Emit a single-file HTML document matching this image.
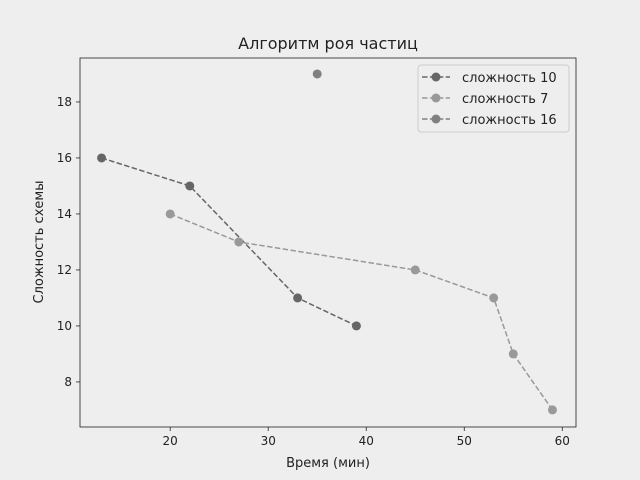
<!DOCTYPE html>
<html><head><meta charset="utf-8"><style>
html,body{margin:0;padding:0;background:#eeeeee;}
svg{display:block;font-family:"DejaVu Sans","Liberation Sans",sans-serif;}
</style></head><body>
<svg id="chart" width="640" height="480">
<rect width="640" height="480" fill="#eeeeee"/>
<text x="328" y="49" text-anchor="middle" font-size="16" fill="#222">Алгоритм роя частиц</text>
<g id="axes"></g>
<g id="series"></g>
<rect x="80" y="58" width="496" height="369" fill="none" stroke="#222" stroke-width="0.8"/>
<text x="328" y="467" text-anchor="middle" font-size="13" fill="#222">Время (мин)</text>
<text transform="translate(43,242) rotate(-90)" text-anchor="middle" font-size="13" fill="#222">Сложность схемы</text>
<g id="legend"></g>
</svg>
<script>
const xTicks=[20,30,40,50,60];
const yTicks=[8,10,12,14,16,18];
const seriesNames=["сложность 10","сложность 7","сложность 16"];
const s1x=[13,22,33,39], s1y=[16,15,11,10];
const s2x=[20,27,45,53,55,59], s2y=[14,13,12,11,9,7];
const s3x=[35], s3y=[19];
const colors=["#666666","#999999","#808080"];
const L=80,R=576,T=58,B=427;
const xmin=10.8,xmax=61.4,ymin=6.39,ymax=19.57;
const X=v=>L+(v-xmin)/(xmax-xmin)*(R-L);
const Y=v=>B-(v-ymin)/(ymax-ymin)*(B-T);
const NS="http://www.w3.org/2000/svg";
function mk(tag,attrs,parent){const e=document.createElementNS(NS,tag);for(const k in attrs)e.setAttribute(k,attrs[k]);parent.appendChild(e);return e;}
const ax=document.getElementById('axes');
xTicks.forEach(t=>{
 const l=mk('line',{x1:X(t),x2:X(t),y1:B,y2:B+4,stroke:'#222','stroke-width':0.8},ax);
 
 
 const tx=mk('text',{x:X(t),y:B+18,'text-anchor':'middle','font-size':12,fill:'#222'},ax);tx.textContent=t;
 
 
});
yTicks.forEach(t=>{
 const l=mk('line',{x1:L-4,x2:L,y1:Y(t),y2:Y(t),stroke:'#222','stroke-width':0.8},ax);
 
 
 const tx=mk('text',{x:L-8,y:Y(t)+4,'text-anchor':'end','font-size':12,fill:'#222'},ax);tx.textContent=t;
 
 
});
const sg=document.getElementById('series');
[[s1x,s1y],[s2x,s2y],[s3x,s3y]].forEach((s,i)=>{
 const g=mk('g',{},sg);
 
 
 if(s[0].length>1){
  const p=mk('polyline',{points:s[0].map((x,j)=>X(x)+','+Y(s[1][j])).join(' '),fill:'none',stroke:colors[i],'stroke-width':1.5,'stroke-dasharray':'5.5,2.4'},g);
  
  
 }
 s[0].forEach((x,j)=>{
  const c=mk('circle',{cx:X(x),cy:Y(s[1][j]),r:4.5,fill:colors[i]},g);
  
  
 });
});
const lg=document.getElementById('legend');
const fr=mk('rect',{x:418,y:65,width:151,height:67,rx:3,fill:'#eeeeee',stroke:'#cccccc'},lg);


seriesNames.forEach((n,i)=>{
 const y=77+i*21;
 const g=mk('g',{},lg);
 
 
 mk('line',{x1:422,x2:450,y1:y,y2:y,stroke:colors[i],'stroke-width':1.5,'stroke-dasharray':'5.5,2.4'},g);
 mk('circle',{cx:436,cy:y,r:4.5,fill:colors[i]},g);
 const t=mk('text',{x:462,y:y+5,'font-size':13,fill:'#222'},g);t.textContent=n;
});
</script>
</body></html>
